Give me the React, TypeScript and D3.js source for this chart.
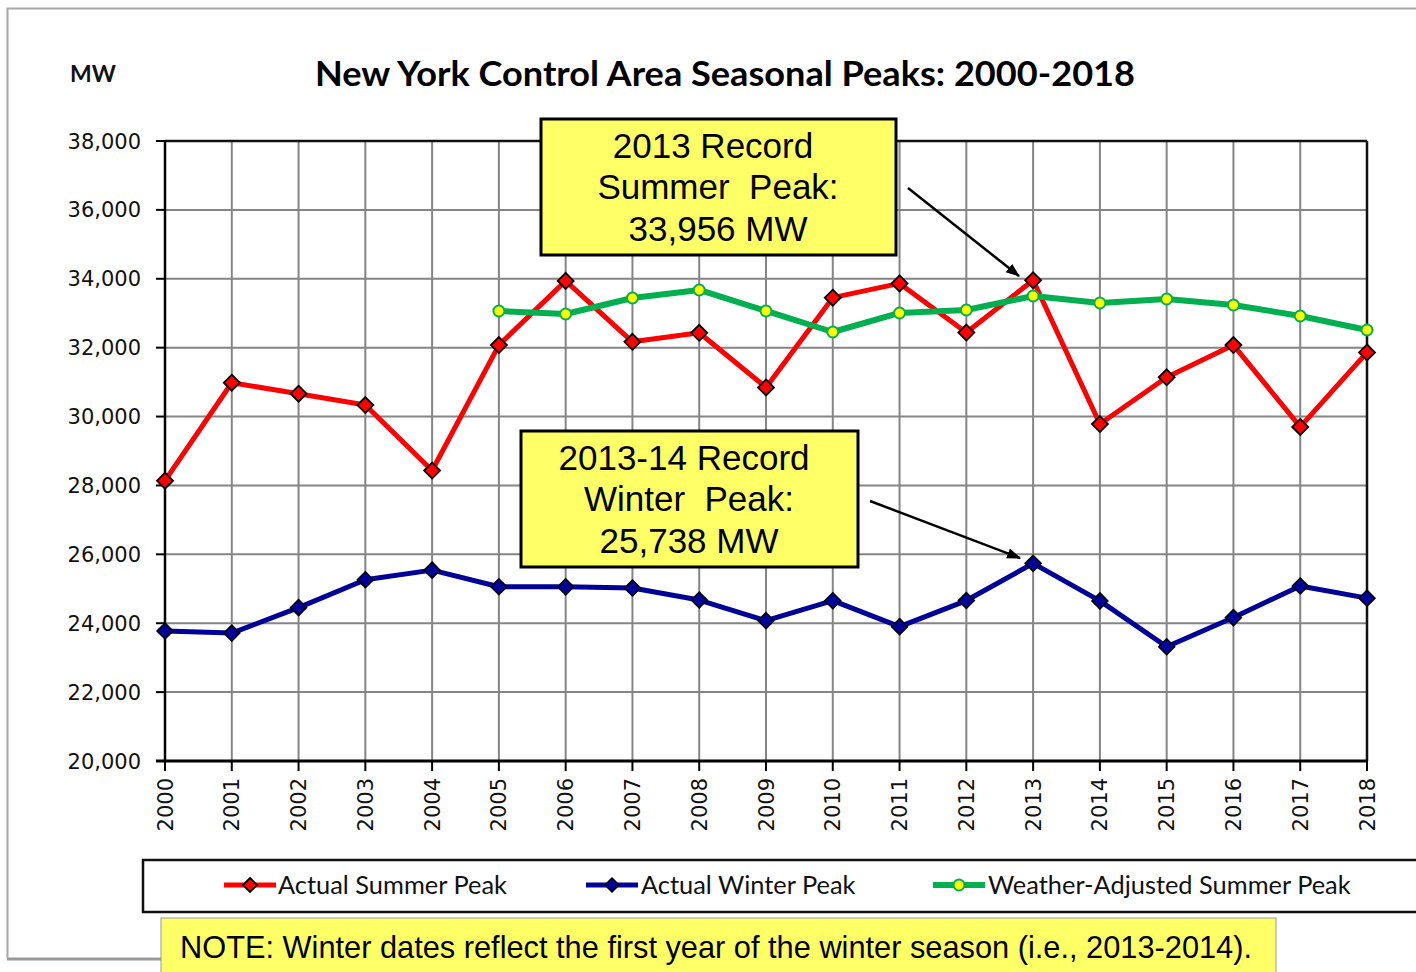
import React from "react";
import * as d3 from "d3";

const years = d3.range(2000, 2019);
const summerPeak = [28138, 30982, 30664, 30333, 28433, 32075, 33939, 32169, 32432, 30844, 33452, 33865, 32439, 33956, 29782, 31139, 32076, 29699, 31861];
const winterPeak = [23774, 23713, 24454, 25262, 25541, 25060, 25057, 25021, 24673, 24074, 24654, 23901, 24658, 25738, 24648, 23317, 24164, 25081, 24728];
const adjYears = d3.range(2005, 2019);
const adjSummerPeak = [33065, 32978, 33442, 33675, 33065, 32455, 33007, 33094, 33500, 33297, 33413, 33239, 32920, 32513];
const yTicks = d3.range(20000, 38001, 2000);

const W = 1416, H = 972;
const x = d3.scaleLinear().domain([2000, 2018]).range([165, 1367]);
const y = d3.scaleLinear().domain([20000, 38000]).range([761, 141]);

const diamond = (cx: number, cy: number, r: number) =>
  `M${cx},${cy - r}L${cx + r},${cy}L${cx},${cy + r}L${cx - r},${cy}Z`;

export default function App() {
  const line = d3.line<[number, number]>().x(d => x(d[0])).y(d => y(d[1]));
  const summerData = years.map((yr, i) => [yr, summerPeak[i]] as [number, number]);
  const winterData = years.map((yr, i) => [yr, winterPeak[i]] as [number, number]);
  const adjData = adjYears.map((yr, i) => [yr, adjSummerPeak[i]] as [number, number]);
  const fmt = d3.format(",");
  const grid = "#858585";
  const arial = "Liberation Sans, Arial, sans-serif";
  const calibri = "Lato, 'Open Sans', sans-serif";
  const verd = "DejaVu Sans, Verdana, sans-serif";
  return (
    <div style={{ position: "absolute", left: 0, top: 0 }}>
      <svg width={W} height={H} viewBox={`0 0 ${W} ${H}`} style={{ display: "block", background: "#fff" }}>
        <defs>
          <marker id="arr" viewBox="0 0 12 10" refX="11" refY="5" markerWidth="14" markerHeight="12" orient="auto" markerUnits="userSpaceOnUse">
            <path d="M0,0.5L12,5L0,9.5Z" fill="#000" />
          </marker>
        </defs>
        {/* outer frame */}
        <path d="M1416,8.5H7.5V958" fill="none" stroke="#a6a6a6" strokeWidth={2} />
        <line x1={7} x2={170} y1={959} y2={959} stroke="#999" strokeWidth={3} />
        <text x={70} y={82} fontFamily={calibri} fontWeight={700} fontSize={23} fill="#111">MW</text>
        <text x={315} y={86} textLength={820} lengthAdjust="spacingAndGlyphs" fontFamily={calibri} fontWeight={700} fontSize={35} fill="#000">
          New York Control Area Seasonal Peaks: 2000-2018
        </text>
        {/* grid */}
        {yTicks.map(t => (
          <g key={"y" + t}>
            <line x1={165} x2={1367} y1={y(t)} y2={y(t)} stroke={grid} strokeWidth={2} />
            <line x1={156} x2={165} y1={y(t)} y2={y(t)} stroke="#000" strokeWidth={2} />
            <text x={141} y={y(t)} dy="0.36em" textAnchor="end" fontFamily={verd} fontSize={21} fill="#111">{fmt(t)}</text>
          </g>
        ))}
        {years.map(yr => (
          <g key={"x" + yr}>
            <line x1={x(yr)} x2={x(yr)} y1={141} y2={761} stroke={grid} strokeWidth={2} />
            <line x1={x(yr)} x2={x(yr)} y1={761} y2={771} stroke="#000" strokeWidth={2} />
            <text transform={`translate(${x(yr)},778) rotate(-90)`} textAnchor="end" dy="0.36em" fontFamily={verd} fontSize={21} fill="#111">{yr}</text>
          </g>
        ))}
        <line x1={165} x2={1367} y1={141} y2={141} stroke="#111" strokeWidth={2.5} />
        <line x1={1367} x2={1367} y1={141} y2={761} stroke="#111" strokeWidth={2.5} />
        <line x1={165} x2={165} y1={141} y2={761} stroke="#000" strokeWidth={2.5} />
        <line x1={156} x2={1368} y1={761} y2={761} stroke="#000" strokeWidth={3} />
        {/* series */}
        <path d={line(winterData) || ""} fill="none" stroke="#000099" strokeWidth={5} strokeLinejoin="round" />
        {winterData.map(d => (
          <path key={"w" + d[0]} d={diamond(x(d[0]), y(d[1]), 8)} fill="#000099" stroke="#000" strokeWidth={1.5} />
        ))}
        <path d={line(summerData) || ""} fill="none" stroke="#ff0000" strokeWidth={5} strokeLinejoin="round" />
        {summerData.map(d => (
          <path key={"s" + d[0]} d={diamond(x(d[0]), y(d[1]), 8)} fill="#ff0000" stroke="#000" strokeWidth={1.8} />
        ))}
        <path d={line(adjData) || ""} fill="none" stroke="#00b050" strokeWidth={6} strokeLinejoin="round" />
        {adjData.map(d => (
          <circle key={"a" + d[0]} cx={x(d[0])} cy={y(d[1])} r={5.5} fill="#ffff00" stroke="#00b050" strokeWidth={2} />
        ))}
        {/* annotations */}
        <rect x={541} y={119} width={355} height={136} fill="#ffff66" stroke="#000" strokeWidth={3} />
        <g fontFamily={arial} fontSize={35} textAnchor="middle" fill="#000">
          <text x={713} y={158}>2013 Record</text>
          <text x={718} y={199}>{"Summer \u00a0Peak:"}</text>
          <text x={718} y={241}>33,956 MW</text>
        </g>
        <line x1={908} y1={188} x2={1019} y2={276} stroke="#000" strokeWidth={2.5} markerEnd="url(#arr)" />
        <rect x={521} y={431} width={337} height={136} fill="#ffff66" stroke="#000" strokeWidth={3} />
        <g fontFamily={arial} fontSize={35} textAnchor="middle" fill="#000">
          <text x={684} y={470}>2013-14 Record</text>
          <text x={689} y={511}>{"Winter \u00a0Peak:"}</text>
          <text x={689} y={553}>25,738 MW</text>
        </g>
        <line x1={870} y1={501} x2={1020} y2={558} stroke="#000" strokeWidth={2.5} markerEnd="url(#arr)" />
        {/* legend */}
        <rect x={143} y={860} width={1300} height={52} fill="#fff" stroke="#111" strokeWidth={2.5} />
        <g fontFamily={calibri} fontSize={25.4} fill="#111">
          <line x1={224} x2={276} y1={885} y2={885} stroke="#ff0000" strokeWidth={5} />
          <path d={diamond(250, 885, 7)} fill="#ff0000" stroke="#000" strokeWidth={1.8} />
          <text x={278} y={885} dy="0.35em">Actual Summer Peak</text>
          <line x1={586} x2={638} y1={885} y2={885} stroke="#000099" strokeWidth={5} />
          <path d={diamond(612, 885, 7)} fill="#000099" stroke="#000" strokeWidth={1.5} />
          <text x={641} y={885} dy="0.35em">Actual Winter Peak</text>
          <line x1={933} x2={985} y1={885} y2={885} stroke="#00b050" strokeWidth={6} />
          <circle cx={959} cy={885} r={5.5} fill="#ffff00" stroke="#00b050" strokeWidth={2} />
          <text x={988} y={885} dy="0.35em">Weather-Adjusted Summer Peak</text>
        </g>
        {/* note */}
        <rect x={161} y={918} width={1115} height={70} fill="#ffff66" stroke="#999" strokeWidth={1} />
        <text x={180} y={958} textLength={1072} lengthAdjust="spacingAndGlyphs" fontFamily={arial} fontSize={30.5} fill="#000">
          NOTE: Winter dates reflect the first year of the winter season (i.e., 2013-2014).
        </text>
      </svg>
    </div>
  );
}
